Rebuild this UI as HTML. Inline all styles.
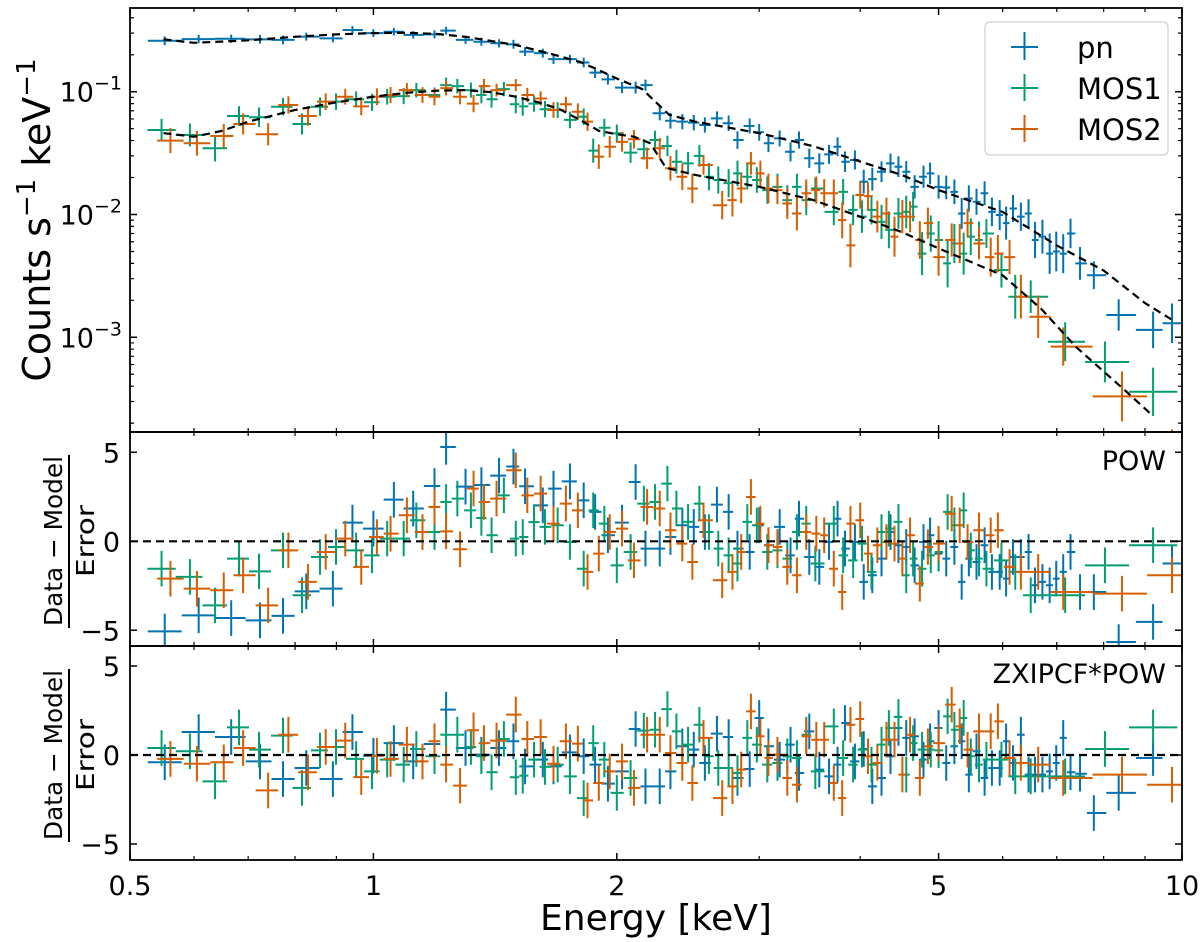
<!DOCTYPE html>
<html><head><meta charset="utf-8">
<style>
html,body{margin:0;padding:0;background:#fff;}
svg{display:block;font-family:"DejaVu Sans","Liberation Sans",sans-serif;}
</style></head>
<body>
<svg id="chart" width="1200" height="942" viewBox="0 0 1200 942" xmlns="http://www.w3.org/2000/svg">
<defs>
<clipPath id="clipTop"><rect x="130" y="8" width="1052" height="424"/></clipPath>
<clipPath id="clipMid"><rect x="130" y="432" width="1052" height="214"/></clipPath>
<clipPath id="clipBot"><rect x="130" y="646" width="1052" height="214"/></clipPath>
</defs>
<rect width="1200" height="942" fill="#fff"/>
<g id="gTop" clip-path="url(#clipTop)"></g>
<g id="gMid" clip-path="url(#clipMid)"></g>
<g id="gBot" clip-path="url(#clipBot)"></g>
<g id="gAxes"></g>

<text transform="translate(50,220) rotate(-90)" text-anchor="middle" font-size="38">Counts s<tspan dy="-15" font-size="26">−1</tspan><tspan dy="15"> keV</tspan><tspan dy="-15" font-size="26">−1</tspan></text>

<g>
<text transform="translate(62,541) rotate(-90)" text-anchor="middle" font-size="25" textLength="170" lengthAdjust="spacingAndGlyphs">Data − Model</text>
<line x1="69" y1="455" x2="69" y2="628" stroke="#000" stroke-width="2"/>
<text transform="translate(94,541) rotate(-90)" text-anchor="middle" font-size="25" textLength="72" lengthAdjust="spacingAndGlyphs">Error</text>
</g>
<g>
<text transform="translate(62,755) rotate(-90)" text-anchor="middle" font-size="25" textLength="170" lengthAdjust="spacingAndGlyphs">Data − Model</text>
<line x1="69" y1="669" x2="69" y2="842" stroke="#000" stroke-width="2"/>
<text transform="translate(94,755) rotate(-90)" text-anchor="middle" font-size="25" textLength="72" lengthAdjust="spacingAndGlyphs">Error</text>
</g>

<text x="656" y="930" text-anchor="middle" font-size="36">Energy [keV]</text>
<text x="1166" y="470" text-anchor="end" font-size="27">POW</text>
<text x="1166" y="683" text-anchor="end" font-size="27">ZXIPCF*POW</text>

<g>
<rect x="985" y="22" width="183" height="133" rx="5" fill="#fff" fill-opacity="0.85" stroke="#d8d8d8" stroke-width="1.5"/>
<g>
<line x1="1011" y1="47" x2="1038" y2="47" stroke="#0173B2" stroke-width="2"/><line x1="1024.5" y1="32" x2="1024.5" y2="60" stroke="#0173B2" stroke-width="2"/>
<text x="1077" y="58" font-size="29">pn</text></g>
<g>
<line x1="1011" y1="88" x2="1038" y2="88" stroke="#029E73" stroke-width="2"/><line x1="1024.5" y1="74" x2="1024.5" y2="101" stroke="#029E73" stroke-width="2"/>
<text x="1077" y="99" font-size="29">MOS1</text></g>
<g>
<line x1="1011" y1="129" x2="1038" y2="129" stroke="#D55E00" stroke-width="2"/><line x1="1024.5" y1="115" x2="1024.5" y2="142" stroke="#D55E00" stroke-width="2"/>
<text x="1077" y="140" font-size="29">MOS2</text></g>
</g>
</svg>
<script>
// ---------- data ----------
const pnEnergy=[0.552,0.608,0.667,0.724,0.773,0.826,0.891,0.942,1.0,1.06,1.12,1.19,1.23,1.30,1.36,1.43,1.49,1.54,1.62,1.67,1.75,1.82,1.88,1.95,2.03,2.11,2.17,
2.26,2.33,2.41,2.49,2.57,2.66,2.75,2.82,2.92,3.00,3.08,3.18,3.28,3.36,3.46,3.56,3.66,3.75,3.83,3.94,4.04,4.14,4.25,4.36,4.46,4.56,4.67,4.79,4.88,5.00,5.11,5.23,5.34,5.45,5.57,5.70,5.82,5.95,6.06,6.18,6.32,6.46,6.58,6.72,6.86,6.99,7.13,7.28,7.48,7.78,8.35,9.21,9.72];
const pnRate=[0.26,0.268,0.27,0.267,0.264,0.281,0.272,0.318,0.30,0.308,0.29,0.293,0.314,0.264,0.255,0.248,0.243,0.212,0.206,0.184,0.184,0.173,0.143,0.126,0.108,0.108,0.113,
0.0667,0.058,0.057,0.056,0.0536,0.0607,0.0553,0.0404,0.0526,0.0467,0.038,0.0417,0.0324,0.0404,0.0287,0.0261,0.0309,0.0356,0.0269,0.0278,0.0185,0.0194,0.0223,0.0261,0.0245,0.0223,0.0168,0.0203,0.0216,0.0168,0.0166,0.0153,0.0102,0.0135,0.0127,0.0149,0.0105,0.0099,0.0085,0.0112,0.0096,0.0102,0.0062,0.0066,0.0048,0.005,0.0048,0.0070,0.0040,0.0032,0.00152,0.00115,0.0013];
const pnResPow=[-5.06,-4.16,-4.31,-4.44,-4.19,-2.81,-2.66,1.05,0.71,2.34,1.84,3.11,5.3,3.07,3.16,3.69,4.2,3.09,2.02,2.96,3.37,2.3,1.65,0.34,1.05,3.33,-0.41,
-0.41,0.24,0.90,0.81,0.52,2.06,1.65,-0.41,-0.60,0.90,-0.22,0.81,-0.79,1.27,-0.88,-1.44,-0.04,1.27,-0.41,-0.04,-2.28,-1.91,-0.97,0.52,-0.22,-0.32,-1.35,-0.04,0.34,-0.69,-0.97,-0.32,-2.28,-0.97,-1.16,-0.22,-1.72,-1.72,-2.10,-0.88,-0.88,-0.60,-2.47,-2.28,-2.47,-2.10,-1.72,-0.60,-2.85,-2.85,-5.66,-4.53,-1.25];
const pnResZx=[-0.41,1.29,1.01,-0.36,-1.35,-0.73,-1.35,1.29,-0.04,0.67,-0.36,0.62,2.55,0.39,0.02,0.39,0.77,-0.64,-0.26,-0.64,0.15,-0.07,-0.54,-1.61,-0.92,1.46,-1.76,
-1.76,-0.92,0.49,0.30,-0.45,1.20,1.01,-1.29,-0.79,2.08,0.49,-0.26,0.58,-1.01,1.33,-0.82,-1.20,-0.54,1.80,-0.36,0.34,-1.76,-1.29,-0.07,1.52,0.96,1.05,-0.26,0.77,1.52,-0.45,0.49,0.77,-1.10,0.21,-1.29,-0.73,-0.73,0.77,-0.45,1.14,-1.10,-1.10,-1.10,-0.92,-0.45,0.96,-0.97,-1.05,-3.26,-2.13,-0.17];

const mos1Energy=[0.547,0.593,0.637,0.682,0.722,0.773,0.816,0.859,0.899,0.952,0.996,1.04,1.09,1.13,1.19,1.23,1.27,1.32,1.36,1.40,1.45,1.50,1.53,1.58,1.63,1.69,1.75,1.82,1.87,1.93,2.00,2.08,2.16,
2.23,2.31,2.37,2.45,2.53,2.60,2.67,2.75,2.82,2.90,2.98,3.07,3.16,3.25,3.34,3.43,3.52,3.71,3.81,3.92,4.02,4.13,4.25,4.34,4.46,4.56,4.65,4.77,4.89,5.00,5.13,5.23,5.37,5.48,5.61,5.73,5.98,6.22,6.50,7.17,8.03,9.21];
const mos1Rate=[0.0488,0.0444,0.0346,0.0634,0.0619,0.0755,0.0546,0.0755,0.083,0.0867,0.082,0.091,0.092,0.103,0.094,0.113,0.111,0.103,0.094,0.0867,0.105,0.079,0.076,0.080,0.072,0.071,0.0589,0.0625,0.0331,0.0509,0.0458,0.0319,0.034,
0.0404,0.0361,0.0269,0.0261,0.030,0.0203,0.0191,0.018,0.0216,0.0203,0.0191,0.0158,0.0168,0.0131,0.0168,0.0131,0.0163,0.0105,0.0153,0.0109,0.0096,0.0109,0.0087,0.0075,0.0102,0.0105,0.0116,0.0048,0.0070,0.0062,0.0040,0.0058,0.0048,0.0066,0.0062,0.0070,0.00353,0.00214,0.00214,0.00092,0.00063,0.00036];
const mos1ResPow=[-1.54,-2.00,-3.60,-0.97,-1.69,-0.51,-3.03,-0.88,-0.32,-0.51,-0.79,0.15,0.15,1.18,0.52,2.21,2.40,1.74,1.31,0.34,2.58,0.15,0.24,1.08,0.81,0.90,-0.04,-1.54,1.74,0.99,-1.35,-0.60,2.12,
2.21,3.24,1.84,1.09,2.12,0.52,-0.41,-0.79,-1.25,1.09,0.90,-0.60,-0.51,-0.97,0.52,0.99,-1.25,0.99,-0.79,-1.07,-0.13,-1.72,0.52,0.71,1.09,-1.91,-0.97,-1.54,-0.79,-0.60,1.65,0.90,1.74,-0.51,-0.97,-1.54,-1.07,-1.72,-3.03,-3.03,-1.35,-0.22];
const mos1ResZx=[0.39,0.21,-1.48,1.55,0.30,1.09,-1.85,0.26,0.45,-0.22,-0.92,-0.26,-0.54,0.34,-0.07,1.14,1.14,0.45,-0.07,-0.97,0.90,-1.25,-1.16,-0.26,-0.67,-0.54,-1.20,-2.42,0.67,-0.26,-2.13,-1.29,1.37,
1.42,2.58,1.33,0.58,1.70,-0.07,-0.73,-0.73,-1.01,0.96,0.58,-0.54,-0.45,-0.07,-0.17,1.14,-0.92,1.61,-0.17,-0.54,0.30,-0.54,0.58,1.52,2.14,-1.10,0.67,0.30,0.30,0.26,2.17,1.42,2.08,-0.07,-0.54,-0.26,-0.26,-1.20,-1.20,-1.20,0.34,1.55];

const mos2Energy=[0.561,0.605,0.653,0.690,0.741,0.785,0.830,0.873,0.923,0.966,1.01,1.05,1.10,1.15,1.19,1.23,1.28,1.33,1.37,1.42,1.50,1.55,1.61,1.67,1.73,1.79,1.84,1.90,1.96,2.03,2.10,2.18,
2.26,2.33,2.41,2.48,2.56,2.70,2.78,2.85,2.93,3.01,3.08,3.16,3.25,3.34,3.43,3.53,3.61,3.71,3.80,3.89,4.00,4.09,4.20,4.31,4.41,4.51,4.61,4.74,4.85,5.00,5.19,5.31,5.43,5.61,5.80,5.92,6.12,6.32,6.64,7.13,8.43,9.72];
const mos2Rate=[0.040,0.038,0.0436,0.0546,0.045,0.078,0.0634,0.083,0.091,0.076,0.091,0.094,0.103,0.094,0.091,0.107,0.091,0.080,0.111,0.103,0.113,0.094,0.088,0.071,0.079,0.0687,0.057,0.0296,0.0356,0.039,0.041,0.0287,
0.0346,0.0238,0.0203,0.0163,0.0253,0.0119,0.0131,0.0163,0.0261,0.0216,0.0163,0.0158,0.0123,0.0102,0.0149,0.0158,0.0149,0.0149,0.0090,0.0056,0.0144,0.0141,0.0096,0.0102,0.0066,0.0096,0.0096,0.0062,0.0085,0.0045,0.0062,0.0058,0.0085,0.0058,0.0045,0.0048,0.0045,0.00214,0.00147,0.00084,0.00033,0.0001];
const mos2ResPow=[-2.10,-2.66,-2.75,-1.91,-3.60,-0.51,-2.28,-0.60,0.15,-1.44,0.24,0.43,1.46,0.52,1.93,0.56,-0.45,2.96,2.21,2.40,3.99,2.58,2.68,0.99,2.12,1.74,-1.72,-0.69,0.52,0.71,-1.07,1.93,
1.84,0.62,-0.13,-1.16,1.18,-2.19,-1.72,-0.60,2.49,0.99,-0.22,-0.32,-1.44,-1.91,0.52,0.43,0.34,-1.54,-2.85,0.99,1.18,-0.69,-0.22,-0.04,-0.13,-0.97,0.34,-2.38,-0.32,-0.13,1.55,0.90,-0.04,0.62,0.34,0.62,-1.44,-1.72,-1.72,-2.85,-2.94,-1.91];
const mos2ResZx=[-0.22,-0.49,-0.41,0.39,-1.99,1.14,-0.97,0.45,0.81,-1.24,-0.04,-0.22,0.58,-0.36,0.77,-0.54,-1.72,1.39,0.67,0.81,2.27,0.90,1.01,-0.49,0.77,0.64,-2.55,-1.57,-0.92,-0.36,-1.85,1.14,
1.14,0.11,-0.45,-1.57,0.96,-2.42,-1.76,-0.82,2.45,1.05,-0.17,0.02,-1.29,-1.67,1.05,0.86,0.86,-1.57,-2.42,1.70,2.02,-0.07,-0.45,0.86,0.86,-1.10,1.14,-1.29,0.49,0.67,2.83,1.61,0.30,1.33,1.33,1.89,-0.17,-0.45,-0.54,-1.29,-1.10,-1.67];

const pnModelEnergy=[0.55,0.6,0.7,0.8,0.9,1.0,1.1,1.2,1.3,1.5,1.65,1.8,1.9,2.0,2.15,2.32,2.5,3.0,3.5,4.0,4.5,5.0,6.0,7.0,8.0,9.0,9.7];
const pnModelRate=[0.267,0.25,0.262,0.28,0.293,0.30,0.302,0.295,0.28,0.24,0.205,0.175,0.15,0.128,0.105,0.065,0.057,0.046,0.036,0.027,0.021,0.0158,0.0105,0.0056,0.0035,0.0019,0.0014];
const mosModelEnergy=[0.55,0.6,0.65,0.7,0.8,0.9,1.0,1.1,1.2,1.3,1.4,1.5,1.6,1.7,1.8,1.9,2.0,2.1,2.2,2.3,2.5,3.0,3.5,4.0,4.5,5.0,6.0,6.7,7.4,8.5,9.2];
const mosModelRate=[0.046,0.043,0.048,0.057,0.071,0.082,0.091,0.098,0.102,0.103,0.099,0.091,0.082,0.072,0.059,0.048,0.045,0.043,0.038,0.024,0.021,0.0168,0.0131,0.0096,0.0072,0.0053,0.0032,0.0017,0.00083,0.00037,0.00023];

const xTickValues=[0.5,1,2,5,10];
const xTickLabels=["0.5","1","2","5","10"];
const xMinorTicks=[0.6,0.7,0.8,0.9,3,4,6,7,8,9];
const yTopExponents=[-1,-2,-3];
const resTickValues=[5,0,-5];
const resTickLabels=["5","0","−5"];

// ---------- scales ----------
const NS="http://www.w3.org/2000/svg";
const L=130,R=1182;
const xS=e=>L+(Math.log10(e)-Math.log10(0.5))/Math.log10(20)*(R-L);
const yTop=v=>91.7-(Math.log10(v)+1)*122.8;
const yMid=r=>541.3-17.8*r;
const yBot=r=>755-17.8*r;
const COL={pn:"#0173B2",mos1:"#029E73",mos2:"#D55E00"};

function mk(tag,attrs,parent){const el=document.createElementNS(NS,tag);for(const k in attrs)el.setAttribute(k,attrs[k]);parent.appendChild(el);return el;}

function halfWidths(E){
  const lg=E.map(Math.log10);
  return lg.map((v,i)=>{
    const l=i>0?(v-lg[i-1])/2:(lg[i+1]-v)/2;
    const r=i<lg.length-1?(lg[i+1]-v)/2:(v-lg[i-1])/2;
    return [l,r];
  });
}

const gTop=document.getElementById('gTop');
const gMid=document.getElementById('gMid');
const gBot=document.getElementById('gBot');
const gAx=document.getElementById('gAxes');

function drawSpectrum(E,V,col,name){
  const hw=halfWidths(E);
  const g=mk('g',{},gTop);
  
  
  E.forEach((e,i)=>{
    const v=V[i];
    const bw=e*(Math.pow(10,hw[i][1])-Math.pow(10,-hw[i][0]));
    const ed=Math.min(0.0042/Math.sqrt(v*bw),0.25);
    const x=xS(e),y=yTop(v);
    const p=mk('path',{d:`M${xS(e*Math.pow(10,-hw[i][0]))},${y}H${xS(e*Math.pow(10,hw[i][1]))}M${x},${yTop(v*Math.pow(10,ed))}V${yTop(v*Math.pow(10,-ed))}`,stroke:col,'stroke-width':2,fill:'none'},g);
    
    
  });
}
function drawResid(E,Rv,col,name,grp,ys){
  const hw=halfWidths(E);
  const g=mk('g',{},grp);
  
  
  const n=Math.min(E.length,Rv.length);
  for(let i=0;i<n;i++){
    const e=E[i],r=Rv[i];
    const x=xS(e),y=ys(r);
    const p=mk('path',{d:`M${xS(e*Math.pow(10,-hw[i][0]))},${y}H${xS(e*Math.pow(10,hw[i][1]))}M${x},${ys(r+1)}V${ys(r-1)}`,stroke:col,'stroke-width':2,fill:'none'},g);
    
    
  }
}
function drawModel(E,V,name){
  const d=E.map((e,i)=>(i?'L':'M')+xS(e)+','+yTop(V[i])).join('');
  const p=mk('path',{d:d,stroke:'#000','stroke-width':2.2,'stroke-dasharray':'8,5',fill:'none'},gTop);
  
  
}

drawSpectrum(pnEnergy,pnRate,COL.pn,'pn');
drawSpectrum(mos1Energy,mos1Rate,COL.mos1,'mos1');
drawSpectrum(mos2Energy,mos2Rate,COL.mos2,'mos2');
drawModel(pnModelEnergy,pnModelRate,'pn-model-curve');
drawModel(mosModelEnergy,mosModelRate,'mos-model-curve');

drawResid(pnEnergy,pnResPow,COL.pn,'pn-pow',gMid,yMid);
drawResid(mos1Energy,mos1ResPow,COL.mos1,'mos1-pow',gMid,yMid);
drawResid(mos2Energy,mos2ResPow,COL.mos2,'mos2-pow',gMid,yMid);
drawResid(pnEnergy,pnResZx,COL.pn,'pn-zxipcf',gBot,yBot);
drawResid(mos1Energy,mos1ResZx,COL.mos1,'mos1-zxipcf',gBot,yBot);
drawResid(mos2Energy,mos2ResZx,COL.mos2,'mos2-zxipcf',gBot,yBot);

[[gMid,yMid,'pow-zero-line'],[gBot,yBot,'zxipcf-zero-line']].forEach(([g,ys,nm])=>{
  const l=mk('line',{x1:L,x2:R,y1:ys(0),y2:ys(0),stroke:'#000','stroke-width':2.2,'stroke-dasharray':'8,5'},g);
  
  
});

// ---------- axes ----------
const panels=[[8,432],[432,646],[646,860]];
panels.forEach(([t,b],pi)=>{
  const r=mk('rect',{x:L,y:t,width:R-L,height:b-t,fill:'none',stroke:'#000','stroke-width':1.8},gAx);
  
  
  xTickValues.forEach(v=>{const x=xS(v);mk('path',{d:`M${x},${b}v-7M${x},${t}v7`,stroke:'#000','stroke-width':1.5},gAx);});
  xMinorTicks.forEach(v=>{const x=xS(v);mk('path',{d:`M${x},${b}v-4M${x},${t}v4`,stroke:'#000','stroke-width':1.2},gAx);});
});
xTickValues.forEach((v,i)=>{
  const t=mk('text',{x:xS(v),y:895,'text-anchor':'middle','font-size':27},gAx);
  t.textContent=xTickLabels[i];
  
  
});
yTopExponents.forEach(ex=>{
  const y=yTop(Math.pow(10,ex));
  mk('path',{d:`M${L},${y}h7M${R},${y}h-7`,stroke:'#000','stroke-width':1.5},gAx);
  const t=mk('text',{x:122,y:y+10,'text-anchor':'end','font-size':27},gAx);
  
  
  t.innerHTML=`10<tspan dy="-12" font-size="19">−${-ex}</tspan>`;
});
for(let ex=-4;ex<=-1;ex++){for(let m=2;m<=9;m++){const v=m*Math.pow(10,ex);const y=yTop(v);if(y>8&&y<432)mk('path',{d:`M${L},${y}h4M${R},${y}h-4`,stroke:'#000','stroke-width':1.2},gAx);}}
[[yMid],[yBot]].forEach(([ys])=>{
  resTickValues.forEach((v,i)=>{
    const y=ys(v);
    mk('path',{d:`M${L},${y}h7M${R},${y}h-7`,stroke:'#000','stroke-width':1.5},gAx);
    const t=mk('text',{x:120,y:y+10,'text-anchor':'end','font-size':27},gAx);
    t.textContent=resTickLabels[i];
    
    
  });
});
</script>
</body></html>
